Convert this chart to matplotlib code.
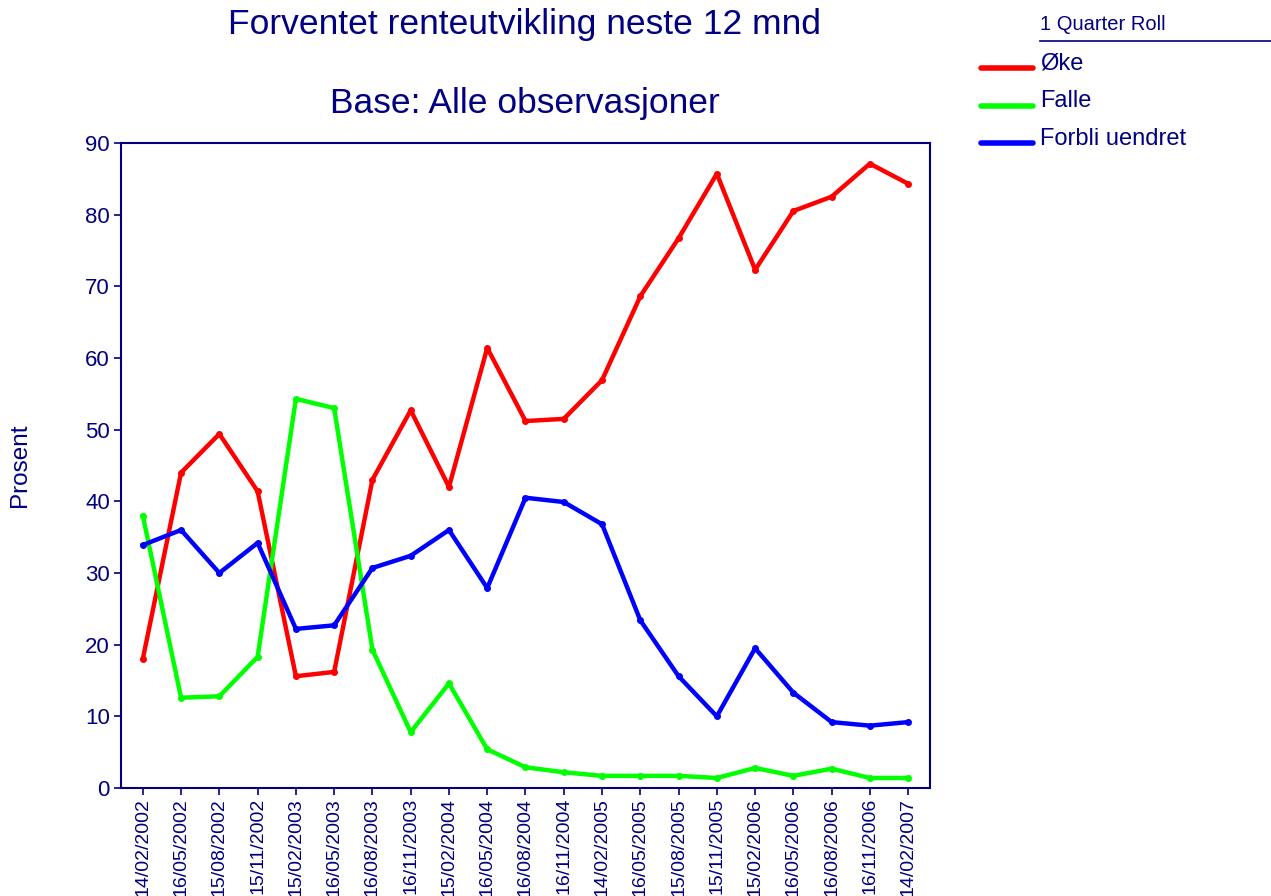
import numpy as np
import matplotlib
matplotlib.use("Agg")
from matplotlib import pyplot as plt
from matplotlib.lines import Line2D

plt.rcParams["font.family"] = ["Liberation Sans", "DejaVu Sans"]

NAVY = "#000080"

dates = ["14/02/2002", "16/05/2002", "15/08/2002", "15/11/2002", "15/02/2003",
         "16/05/2003", "16/08/2003", "16/11/2003", "15/02/2004", "16/05/2004",
         "16/08/2004", "16/11/2004", "14/02/2005", "16/05/2005", "15/08/2005",
         "15/11/2005", "15/02/2006", "16/05/2006", "16/08/2006", "16/11/2006",
         "14/02/2007"]

oke = [18.0, 44.0, 49.4, 41.4, 15.6, 16.2, 43.0, 52.7, 42.0, 61.4, 51.2,
       51.5, 56.9, 68.6, 76.7, 85.7, 72.3, 80.5, 82.5, 87.1, 84.3]
falle = [38.0, 12.6, 12.8, 18.3, 54.3, 53.0, 19.3, 7.8, 14.6, 5.4, 2.9,
         2.2, 1.7, 1.7, 1.7, 1.4, 2.8, 1.7, 2.7, 1.4, 1.4]
forbli = [33.9, 36.0, 30.0, 34.2, 22.2, 22.7, 30.7, 32.4, 36.0, 27.9, 40.5,
          39.9, 36.8, 23.4, 15.6, 10.0, 19.5, 13.3, 9.2, 8.7, 9.2]

series = [("Øke", oke, "#ff0000"),
          ("Falle", falle, "#00ff00"),
          ("Forbli uendret", forbli, "#0000ff")]

fig = plt.figure(figsize=(12.71, 8.96), dpi=100)
ax = fig.add_axes([0.0952, 0.1205, 0.6365, 0.72])

x = np.arange(len(dates))
for name, vals, col in series:
    ax.plot(x, vals, color=col, lw=3.2, marker="o", ms=4, label=name,
            solid_joinstyle="round")

ax.set_xlim(-0.57, len(dates) - 1 + 0.57)
ax.set_ylim(0, 90)
ax.set_yticks(range(0, 91, 10))
ax.set_xticks(x)
ax.set_xticklabels(dates, rotation=90, va="top", ha="center")
ax.tick_params(colors=NAVY, labelcolor=NAVY, labelsize=16, length=5, width=1.2,
               pad=3)
# date labels a little smaller so they fit inside the figure
ax.tick_params(axis="x", labelsize=14, pad=2)
for s in ax.spines.values():
    s.set_color(NAVY)
    s.set_linewidth(1.5)

# y label placed by hand so it sits near the left edge like the original
fig.text(0.0157, 0.481, "Prosent", color=NAVY, fontsize=17.5, rotation=90,
         ha="center", va="center")

fig.text(0.413, 0.973, "Forventet renteutvikling neste 12 mnd", color=NAVY,
         fontsize=25.5, ha="center", va="center")
fig.text(0.413, 0.884, "Base: Alle observasjoner", color=NAVY,
         fontsize=25.5, ha="center", va="center")

# legend drawn by hand to the right
fig.text(0.818, 0.973, "1 Quarter Roll", color=NAVY, fontsize=14.5,
         ha="left", va="center")
fig.add_artist(Line2D([0.818, 1.0], [0.9545, 0.9545], color=NAVY, lw=1.2,
                      transform=fig.transFigure))
for i, (name, vals, col) in enumerate(series):
    yy = 0.924 - i * 0.042
    fig.add_artist(Line2D([0.772, 0.813], [yy, yy], color=col, lw=4,
                          solid_capstyle="round", transform=fig.transFigure))
    fig.text(0.818, yy + 0.005, name, color=NAVY, fontsize=17,
             ha="left", va="center")

fig.savefig("out.png", dpi=100)
